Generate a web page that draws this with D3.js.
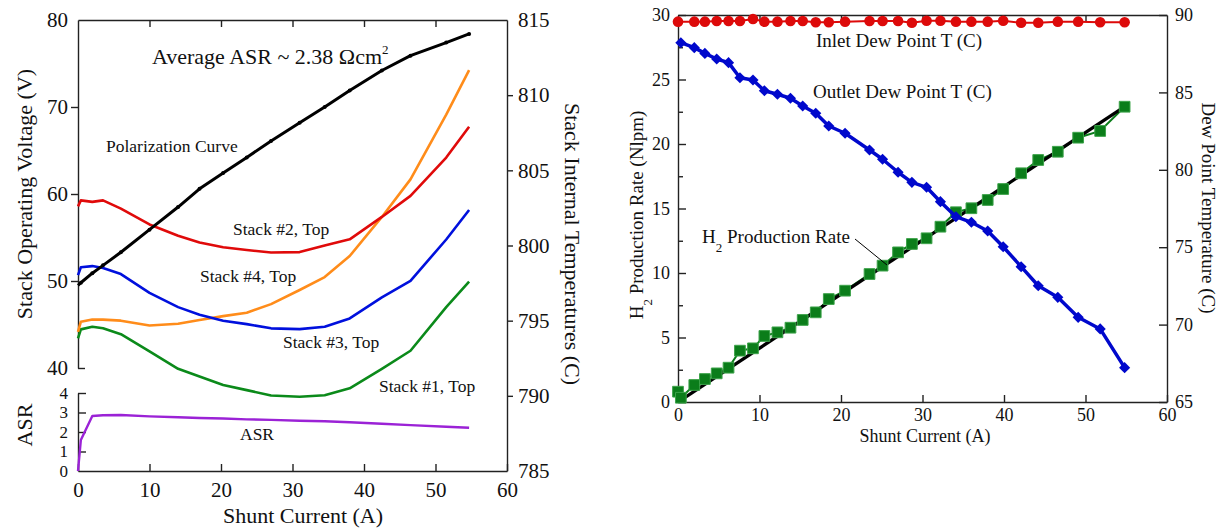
<!DOCTYPE html>
<html><head><meta charset="utf-8">
<script src="https://cdn.jsdelivr.net/npm/d3@7"></script>
<style>
body{margin:0;background:#fff}
svg{display:block}
text{font-family:"Liberation Serif","Times New Roman","DejaVu Serif",serif;fill:#111}
</style>
</head><body>
<svg id="c" width="1222" height="529"></svg>
<script>
// ---------- Left chart data ----------
const leftCurrent = [0, 0.4, 2, 3.5, 6, 10, 14, 17, 20.3, 23.6, 27, 31, 34.5, 38, 42.5, 46.5, 51.5, 54.7];
const polarization = [49.5, 49.8, 50.9, 51.8, 53.3, 55.9, 58.5, 60.6, 62.4, 64.2, 66.1, 68.2, 70.0, 71.9, 74.2, 75.9, 77.4, 78.4];
const stack2Top = [802.6, 803.0, 802.9, 803.0, 802.45, 801.4, 800.65, 800.2, 799.88, 799.7, 799.53, 799.56, 800.0, 800.41, 801.9, 803.3, 805.85, 807.9];
const stack4Top = [794.26, 794.93, 795.08, 795.07, 795.0, 794.68, 794.8, 795.05, 795.3, 795.53, 796.1, 797.04, 797.9, 799.3, 801.9, 804.4, 808.7, 811.67];
const stack3Top = [798.03, 798.55, 798.63, 798.5, 798.1, 796.85, 795.9, 795.4, 795.0, 794.77, 794.49, 794.44, 794.6, 795.15, 796.55, 797.65, 800.4, 802.36];
const stack1Top = [793.82, 794.42, 794.6, 794.49, 794.1, 792.95, 791.8, 791.28, 790.72, 790.38, 790.02, 789.94, 790.04, 790.5, 791.8, 793.0, 795.9, 797.59];
const asrValues = [0, 1.59, 2.82, 2.86, 2.87, 2.8, 2.76, 2.72, 2.69, 2.65, 2.62, 2.58, 2.55, 2.5, 2.42, 2.35, 2.27, 2.22];

const leftXTicks = [0, 10, 20, 30, 40, 50, 60];
const voltTicks = [40, 50, 60, 70, 80];
const tempTicks = [785, 790, 795, 800, 805, 810, 815];
const asrTicks = [0, 1, 2, 3, 4];

// ---------- Right chart data ----------
const rightCurrent = [0.0, 0.35, 2.0, 3.3, 4.75, 6.2, 7.6, 9.2, 10.6, 12.2, 13.8, 15.3, 16.9, 18.5, 20.5, 23.5, 25.1, 27.0, 28.7, 30.5, 32.2, 34.1, 36.0, 38.0, 39.9, 42.1, 44.2, 46.6, 49.1, 51.8, 54.8];
const h2Rate = [0.80, 0.33, 1.32, 1.78, 2.22, 2.66, 3.98, 4.16, 5.12, 5.40, 5.76, 6.36, 6.95, 7.98, 8.63, 9.92, 10.57, 11.60, 12.25, 12.69, 13.59, 14.71, 15.02, 15.66, 16.51, 17.73, 18.76, 19.40, 20.49, 21.01, 22.89];
const inletDew = [89.57, null, 89.57, 89.57, 89.61, 89.61, 89.61, 89.74, 89.57, 89.57, 89.61, 89.61, 89.53, 89.53, 89.57, 89.61, 89.61, 89.61, 89.5, 89.63, 89.63, 89.57, 89.57, 89.57, 89.63, 89.5, 89.5, 89.57, 89.57, 89.53, 89.53];
const outletDew = [null, 88.21, 87.89, 87.52, 87.16, 86.92, 85.95, 85.80, 85.11, 84.88, 84.62, 84.12, 83.65, 82.83, 82.36, 81.28, 80.68, 79.84, 79.19, 78.87, 77.94, 76.97, 76.61, 76.05, 75.03, 73.74, 72.51, 71.76, 70.47, 69.72, 67.22];
const idealCurrent = [0.5, 54.8];
const idealH2 = [0.2, 22.9];

const rightXTicks = [0, 10, 20, 30, 40, 50, 60];
const h2Ticks = [0, 5, 10, 15, 20, 25, 30];
const h2MinorTicks = [2.5, 7.5, 12.5, 17.5, 22.5, 27.5];
const dewTicks = [65, 70, 75, 80, 85, 90];

const svg = d3.select('#c');
const AX = '#222';
const FONT = '"Liberation Serif","Times New Roman",serif';

function styleAxis(g, fs){
  g.attr('font-family', FONT);
  g.selectAll('path.domain').attr('stroke', AX).attr('stroke-width', 1.4);
  g.selectAll('.tick line').attr('stroke', AX).attr('stroke-width', 1.4);
  g.selectAll('text').attr('font-size', fs).attr('fill', '#111');
}

// ================= LEFT CHART =================
const xL = d3.scaleLinear().domain([0, 60]).range([78, 507]);
const yV = d3.scaleLinear().domain([40, 80]).range([368, 20]);
const yT = d3.scaleLinear().domain([785, 815]).range([471, 20]);
const yA = d3.scaleLinear().domain([0, 4]).range([471, 393]);

const L = svg.append('g');
L.append('g').attr('transform', 'translate(0,471)')
  .call(d3.axisBottom(xL).tickValues(leftXTicks).tickFormat(d3.format('d')).tickSizeInner(-7).tickSizeOuter(0).tickPadding(11))
  .call(g => styleAxis(g, 21));
L.append('g').attr('transform', 'translate(0,20)')
  .call(d3.axisTop(xL).tickValues(leftXTicks.slice(1, -1)).tickFormat('').tickSizeInner(-7).tickSizeOuter(0))
  .call(g => styleAxis(g, 21));
L.append('g').attr('transform', 'translate(78,0)')
  .call(d3.axisLeft(yV).tickValues(voltTicks).tickFormat(d3.format('d')).tickSizeInner(7).tickSizeOuter(0).tickPadding(3))
  .call(g => styleAxis(g, 21))
  .call(g => g.selectAll('.tick').filter(d => d === 40 || d === 80).select('line').attr('x2', d => d === 40 ? 7 : 0));
L.append('g').attr('transform', 'translate(78,0)')
  .call(d3.axisLeft(yA).tickValues(asrTicks).tickFormat(d3.format('d')).tickSizeInner(-8).tickSizeOuter(0).tickPadding(10))
  .call(g => styleAxis(g, 17))
  .call(g => g.selectAll('.tick').filter(d => d === 0).select('line').remove());
L.append('g').attr('transform', 'translate(507,0)')
  .call(d3.axisRight(yT).tickValues(tempTicks).tickFormat(d3.format('d')).tickSizeInner(6).tickSizeOuter(0).tickPadding(5))
  .call(g => styleAxis(g, 21))
  .call(g => g.selectAll('.tick').filter(d => d === 785 || d === 815).select('line').remove());

function drawLeft(vals, scale, color, w){
  const data = leftCurrent.map((c, i) => [c, vals[i]]);
  L.append('path').datum(data)
    .attr('fill', 'none').attr('stroke', color).attr('stroke-width', w).attr('stroke-linejoin', 'round')
    .attr('d', d3.line().x(d => xL(d[0])).y(d => scale(d[1])));
}
drawLeft(asrValues, yA, '#9b22d6', 2.4);
drawLeft(stack1Top, yT, '#0b8a1a', 2.6);
drawLeft(stack4Top, yT, '#ff8c1a', 2.6);
drawLeft(stack3Top, yT, '#0010dd', 2.6);
drawLeft(stack2Top, yT, '#e00a0a', 2.6);
drawLeft(polarization, yV, '#000', 3);
L.selectAll('circle.pol').data(leftCurrent.slice(1)).enter().append('circle')
  .attr('cx', d => xL(d)).attr('cy', (d, i) => yV(polarization[i + 1])).attr('r', 2).attr('fill', '#000');

const ann1 = L.append('text').attr('x', 152).attr('y', 64).attr('font-size', 22);
ann1.append('tspan').text('Average ASR ~ 2.38 Ωcm');
ann1.append('tspan').attr('font-size', 13).attr('dy', -10).text('2');
L.append('text').attr('x', 106).attr('y', 152).attr('font-size', 17.5).text('Polarization Curve');
L.append('text').attr('x', 233).attr('y', 235).attr('font-size', 17.5).text('Stack #2, Top');
L.append('text').attr('x', 200).attr('y', 281.5).attr('font-size', 17.5).text('Stack #4, Top');
L.append('text').attr('x', 283).attr('y', 348).attr('font-size', 17.5).text('Stack #3, Top');
L.append('text').attr('x', 379).attr('y', 392).attr('font-size', 17.5).text('Stack #1, Top');
L.append('text').attr('x', 240).attr('y', 440).attr('font-size', 17.5).text('ASR');

L.append('text').attr('transform', 'translate(32,194) rotate(-90)').attr('text-anchor', 'middle').attr('font-size', 22).text('Stack Operating Voltage (V)');
L.append('text').attr('transform', 'translate(32,425) rotate(-90)').attr('text-anchor', 'middle').attr('font-size', 22).text('ASR');
L.append('text').attr('transform', 'translate(565,244) rotate(90)').attr('text-anchor', 'middle').attr('font-size', 22).text('Stack Internal Temperatures (C)');
L.append('text').attr('x', 303).attr('y', 523).attr('text-anchor', 'middle').attr('font-size', 22).text('Shunt Current (A)');

// ================= RIGHT CHART =================
const xR = d3.scaleLinear().domain([0, 60]).range([678, 1167]);
const yH = d3.scaleLinear().domain([0, 30]).range([402, 15]);
const yD = d3.scaleLinear().domain([65, 90]).range([402, 15]);

const R = svg.append('g');
R.append('g').attr('transform', 'translate(0,402)')
  .call(d3.axisBottom(xR).tickValues(rightXTicks).tickFormat(d3.format('d')).tickSizeInner(-7).tickSizeOuter(0).tickPadding(6))
  .call(g => styleAxis(g, 18));
R.append('g').attr('transform', 'translate(0,15)')
  .call(d3.axisTop(xR).tickValues(rightXTicks.slice(1, -1)).tickFormat('').tickSizeInner(-7).tickSizeOuter(0))
  .call(g => styleAxis(g, 18));
R.append('g').attr('transform', 'translate(678,0)')
  .call(d3.axisLeft(yH).tickValues(h2Ticks).tickFormat(d3.format('d')).tickSizeInner(-8).tickSizeOuter(0).tickPadding(8))
  .call(g => styleAxis(g, 18));
R.append('g').attr('transform', 'translate(678,0)')
  .call(d3.axisLeft(yH).tickValues(h2MinorTicks).tickFormat('').tickSizeInner(-5).tickSizeOuter(0))
  .call(g => styleAxis(g, 18)).call(g => g.select('path.domain').remove());
R.append('g').attr('transform', 'translate(1167,0)')
  .call(d3.axisRight(yD).tickValues(dewTicks).tickFormat(d3.format('d')).tickSizeInner(-8).tickSizeOuter(0).tickPadding(8))
  .call(g => styleAxis(g, 18));

const h2Data = rightCurrent.map((c, i) => [c, h2Rate[i]]);
R.append('path').datum(h2Data).attr('fill', 'none').attr('stroke', '#0b7d1a').attr('stroke-width', 2)
  .attr('d', d3.line().x(d => xR(d[0])).y(d => yH(d[1])));
R.append('path').datum(idealCurrent.map((c, i) => [c, idealH2[i]])).attr('fill', 'none').attr('stroke', '#000').attr('stroke-width', 3.2)
  .attr('d', d3.line().x(d => xR(d[0])).y(d => yH(d[1])));
R.selectAll('path.sq').data(h2Data).enter().append('path')
  .attr('transform', d => `translate(${xR(d[0])},${yH(d[1])})`)
  .attr('d', d3.symbol().type(d3.symbolSquare).size(115))
  .attr('fill', '#0b7d1a').attr('stroke', '#3da34a').attr('stroke-width', 1);

const outData = rightCurrent.map((c, i) => [c, outletDew[i]]).filter(d => d[1] != null);
R.append('path').datum(outData).attr('fill', 'none').attr('stroke', '#0008cc').attr('stroke-width', 3.5).attr('stroke-linejoin', 'round')
  .attr('d', d3.line().x(d => xR(d[0])).y(d => yD(d[1])));
R.selectAll('path.dm').data(outData).enter().append('path')
  .attr('transform', d => `translate(${xR(d[0])},${yD(d[1])}) rotate(45)`)
  .attr('d', d3.symbol().type(d3.symbolSquare).size(62))
  .attr('fill', '#0008cc');

const inData = rightCurrent.map((c, i) => [c, inletDew[i]]).filter(d => d[1] != null);
R.append('path').datum(inData).attr('fill', 'none').attr('stroke', '#dd0a0a').attr('stroke-width', 2)
  .attr('d', d3.line().x(d => xR(d[0])).y(d => yD(d[1])));
R.selectAll('circle.in').data(inData).enter().append('circle')
  .attr('cx', d => xR(d[0])).attr('cy', d => yD(d[1])).attr('r', 5.3).attr('fill', '#dd0a0a');

R.append('text').attr('x', 816).attr('y', 47).attr('font-size', 19).text('Inlet Dew Point T (C)');
R.append('text').attr('x', 813).attr('y', 97.5).attr('font-size', 19).text('Outlet Dew Point T (C)');
const h2t = R.append('text').attr('x', 702).attr('y', 243).attr('font-size', 19);
h2t.append('tspan').text('H');
h2t.append('tspan').attr('font-size', 13).attr('dy', 9).text('2');
h2t.append('tspan').attr('dy', -9).text(' Production Rate');
R.append('line').attr('x1', 855).attr('y1', 239).attr('x2', 887).attr('y2', 265).attr('stroke', '#000').attr('stroke-width', 1);

const h2title = R.append('text').attr('transform', 'translate(643,215) rotate(-90)').attr('text-anchor', 'middle').attr('font-size', 19);
h2title.append('tspan').text('H');
h2title.append('tspan').attr('font-size', 13).attr('dy', 9).text('2');
h2title.append('tspan').attr('dy', -9).text(' Production Rate (Nlpm)');
R.append('text').attr('transform', 'translate(1202,208) rotate(90)').attr('text-anchor', 'middle').attr('font-size', 19).text('Dew Point Temperature (C)');
R.append('text').attr('x', 925).attr('y', 442).attr('text-anchor', 'middle').attr('font-size', 18).text('Shunt Current (A)');
</script>
</body></html>
